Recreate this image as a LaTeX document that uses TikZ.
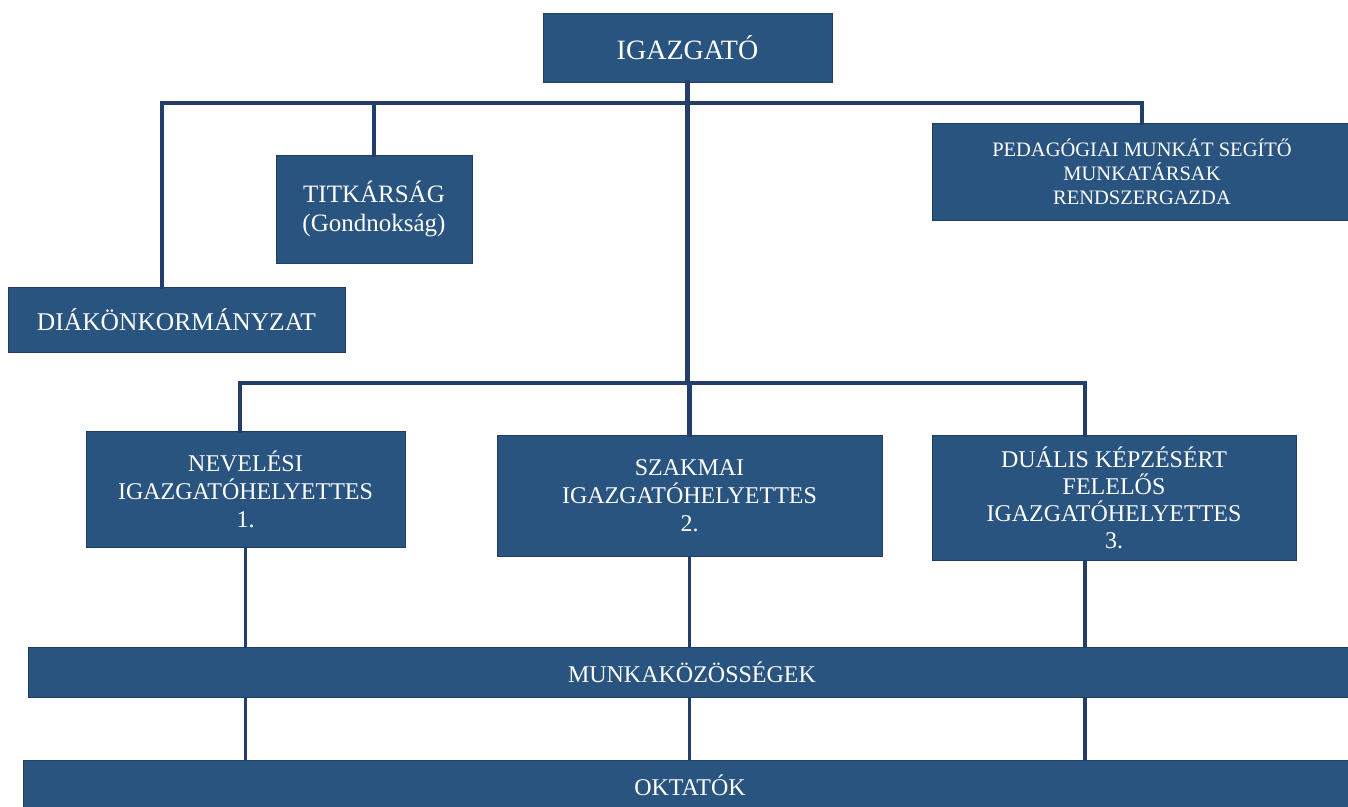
\documentclass[tikz,border=0pt]{standalone}
\usepackage{fontspec}
\setmainfont{Liberation Serif}
\definecolor{boxblue}{RGB}{41,84,128}
\definecolor{boxedge}{RGB}{32,62,98}
\definecolor{linenavy}{RGB}{36,62,108}
\tikzset{
  orgbox/.style={fill=boxblue, draw=boxedge, line width=1pt, text=white, align=center, inner sep=0pt, anchor=center},
  conn/.style={draw=linenavy, line width=4.5pt, line cap=rect},
  thinconn/.style={draw=linenavy, line width=3.5pt},
}
\begin{document}
\begin{tikzpicture}[x=1pt,y=-1pt]
\useasboundingbox[fill=white] (0,0) rectangle (1348,806);
% boxes
\node[orgbox, minimum width=289pt, minimum height=69pt, font=\fontsize{28}{32}\selectfont] (igaz) at (687.5,47.5) {IGAZGATÓ};
\node[orgbox, minimum width=420pt, minimum height=97pt, font=\fontsize{20.5}{24}\selectfont] (pedag) at (1142,171.5) {PEDAGÓGIAI MUNKÁT SEGÍTŐ\\MUNKATÁRSAK\\RENDSZERGAZDA};
\node[orgbox, minimum width=196pt, minimum height=108pt, font=\fontsize{25}{29}\selectfont] (titk) at (374,209) {TITKÁRSÁG\\(Gondnokság)};
\node[orgbox, minimum width=337pt, minimum height=65pt, font=\fontsize{25.5}{29}\selectfont] (diak) at (176.5,319.5) {DIÁKÖNKORMÁNYZAT};
\node[orgbox, minimum width=319pt, minimum height=116pt, font=\fontsize{24}{28}\selectfont] (nev) at (245.5,489) {NEVELÉSI\\IGAZGATÓHELYETTES\\1.};
\node[orgbox, minimum width=385pt, minimum height=121pt, font=\fontsize{24}{28}\selectfont] (szak) at (689.5,495.5) {SZAKMAI\\IGAZGATÓHELYETTES\\2.};
\node[orgbox, minimum width=364pt, minimum height=125pt, font=\fontsize{24}{27}\selectfont] (dual) at (1114,497.5) {DUÁLIS KÉPZÉSÉRT\\FELELŐS\\IGAZGATÓHELYETTES\\3.};
\node[orgbox, minimum width=1328pt, minimum height=50pt, font=\fontsize{24}{28}\selectfont] (munka) at (692,672) {MUNKAKÖZÖSSÉGEK};
\node[orgbox, minimum width=1333pt, minimum height=50pt, font=\fontsize{24}{28}\selectfont] (okt) at (690,785) {OKTATÓK};
% bus coordinates
\coordinate (t1) at (162,103);
\coordinate (t2) at (240,383);
\coordinate (t3) at (1085,383);
% top level connectors
\draw[conn] (t1 |- diak.north) -- (t1) -| (pedag.north);
\draw[conn] (titk.north) -- (titk.north |- t1);
\draw[conn] (igaz.south) -- (igaz.south |- t2);
\draw[conn] (t2 |- nev.north) -- (t2) -- (t3) -- (t3 |- dual.north);
\draw[conn] (szak.north) -- (szak.north |- t2);
% lower connectors
\draw[thinconn] (nev.south) -- (nev.south |- munka.north);
\draw[thinconn] (nev.south |- munka.south) -- (nev.south |- okt.north);
\draw[thinconn] (szak.south) -- (szak.south |- munka.north);
\draw[thinconn] (szak.south |- munka.south) -- (szak.south |- okt.north);
\draw[thinconn] (t3 |- dual.south) -- (t3 |- munka.north);
\draw[thinconn] (t3 |- munka.south) -- (t3 |- okt.north);
\end{tikzpicture}
\end{document}
